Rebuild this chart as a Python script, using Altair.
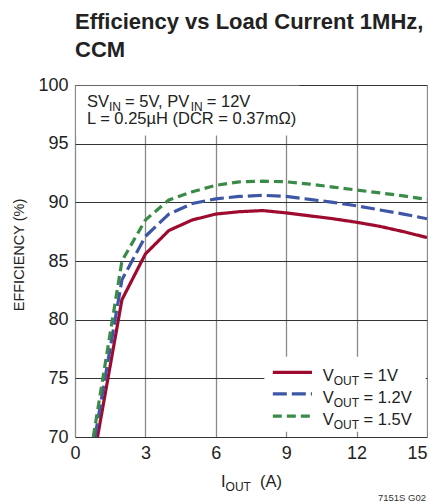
import altair as alt
import pandas as pd

# ---------------- data ----------------
series_keys = ["1V", "1.2V", "1.5V"]
series_colors = ["#9E0B2E", "#3D57A6", "#3B8B48"]

iout_1v = [0.96, 2, 3, 4, 5, 6, 7, 8, 9, 10, 11, 12, 13, 14, 15]
eff_1v = [70.0, 81.7, 85.6, 87.6, 88.5, 89.0, 89.2, 89.3, 89.1, 88.85, 88.6, 88.3, 87.95, 87.5, 87.0]

iout_12v = [0.85, 2, 3, 4, 5, 6, 7, 8, 9, 10, 11, 12, 13, 14, 15]
eff_12v = [70.0, 83.4, 87.1, 89.0, 89.9, 90.3, 90.5, 90.6, 90.5, 90.25, 90.0, 89.7, 89.35, 89.0, 88.6]

iout_15v = [0.78, 2, 3, 4, 5, 6, 7, 8, 9, 10, 11, 12, 13, 14, 15]
eff_15v = [70.0, 85.0, 88.5, 90.2, 90.9, 91.45, 91.75, 91.8, 91.75, 91.55, 91.3, 91.05, 90.8, 90.55, 90.25]

x_ticks = [0, 3, 6, 9, 12, 15]
y_ticks = [70, 75, 80, 85, 90, 95, 100]

title_lines = ["Efficiency vs Load Current 1MHz,", "CCM"]
legend_subs = ["= 1V", "= 1.2V", "= 1.5V"]

# ---------------- build tables ----------------
rows = []
for key, xs, ys in [("1V", iout_1v, eff_1v), ("1.2V", iout_12v, eff_12v), ("1.5V", iout_15v, eff_15v)]:
    for i, (a, b) in enumerate(zip(xs, ys)):
        rows.append({"series": key, "iout": a, "eff": b, "order": i})
df = pd.DataFrame(rows)

FONT = "Liberation Sans, Arial, sans-serif"

xscale = alt.Scale(domain=[0, 15], nice=False)
yscale = alt.Scale(domain=[70, 100], nice=False, zero=False)
xaxis = alt.Axis(values=x_ticks, title=None, grid=True, gridColor="#8a8a8a", gridWidth=1.3,
                 tickSize=0, domain=False, labelFont=FONT, labelFontSize=18, labelColor="#222",
                 labelPadding=7, labelFlush=False,
                 labelAlign={"condition": {"test": "datum.value >= 15", "value": "right"}, "value": "center"})
yaxis = alt.Axis(values=y_ticks, title=None, grid=True, gridColor="#333", gridWidth=1,
                 tickSize=0, domain=False, labelFont=FONT, labelFontSize=18, labelColor="#222",
                 labelPadding=7, labelFlush=False)


def X(f):
    return alt.X(f, scale=xscale, axis=xaxis)


def Y(f):
    return alt.Y(f, scale=yscale, axis=yaxis)


color = alt.Color("series:N", scale=alt.Scale(domain=series_keys, range=series_colors), legend=None)
dash = alt.StrokeDash("series:N", scale=alt.Scale(domain=series_keys, range=[[1, 0], [14, 5], [9, 5]]),
                      legend=None)

lines = alt.Chart(df).mark_line(strokeWidth=3.2, clip=True).encode(
    x=X("iout:Q"), y=Y("eff:Q"), color=color, strokeDash=dash, order="order:Q"
)

# white boxes behind annotation and legend
boxes = pd.DataFrame({"x1": [0.05, 8.07], "x2": [9.56, 14.95], "y1": [95.7, 70.45], "y2": [99.93, 76.85]})
box_layer = alt.Chart(boxes).mark_rect(fill="white").encode(
    x=X("x1:Q"), x2="x2:Q", y=Y("y1:Q"), y2="y2:Q"
)

# legend symbols
leg = pd.DataFrame({"series": series_keys, "x1": [8.43] * 3, "x2": [10.1] * 3, "yv": [75.5, 73.67, 71.78]})
leg_lines = alt.Chart(leg).mark_rule(strokeWidth=3.2).encode(
    x=X("x1:Q"), x2="x2:Q", y=Y("yv:Q"), color=color, strokeDash=dash
)

# text segments (pixel positions relative to the plot area)
MAIN = 16.5
SUB = 12
segments = [
    ("SV", 12, 21.5, MAIN), ("IN", 34, 25.5, SUB), ("= 5V, PV", 50.1, 21.5, MAIN),
    ("IN", 115.7, 25.5, SUB), ("= 12V", 131.8, 21.5, MAIN),
    ("L = 0.25µH (DCR = 0.37mΩ)", 12, 38.5, MAIN),
    # legend labels
    ("V", 247.7, 295.5, MAIN), ("OUT", 258.7, 299.5, SUB), (legend_subs[0], 288.6, 295.5, MAIN),
    ("V", 247.7, 317.5, MAIN), ("OUT", 258.7, 321.5, SUB), (legend_subs[1], 288.6, 317.5, MAIN),
    ("V", 247.7, 339.5, MAIN), ("OUT", 258.7, 343.5, SUB), (legend_subs[2], 288.6, 339.5, MAIN),
    # x-axis title
    ("I", 146, 402, MAIN), ("OUT", 150.6, 406, SUB), ("(A)", 185.1, 402, MAIN),
]

one = pd.DataFrame({"a": [0]})
text_layers = []
for t, px, py, sz in segments:
    text_layers.append(
        alt.Chart(one).mark_text(text=t, align="left", baseline="alphabetic", font=FONT,
                                 fontSize=sz, color="#222").encode(x=alt.value(px), y=alt.value(py))
    )

ytitle = alt.Chart(one).mark_text(text="EFFICIENCY (%)", angle=270, align="center", baseline="middle",
                                  font=FONT, fontSize=14.5, color="#222").encode(
    x=alt.value(-55), y=alt.value(170))
foot = alt.Chart(one).mark_text(text="7151S G02", align="right", baseline="alphabetic",
                                font=FONT, fontSize=9.5, color="#333").encode(
    x=alt.value(351), y=alt.value(416))

chart = alt.layer(box_layer, lines, leg_lines, *text_layers, ytitle, foot).properties(
    width=352, height=352,
    title=alt.TitleParams(text=title_lines, anchor="start", frame="group", font=FONT, fontSize=22,
                          fontWeight="bold", color="#222", lineHeight=28.5, offset=14),
    autosize=alt.AutoSizeParams(type="none"),
    padding={"left": 67, "top": 77, "right": 1, "bottom": 72},
).configure_view(stroke="#111", strokeWidth=1.6).configure(background="white")

chart.save("out.html", embed_options={"renderer": "svg", "actions": False})
